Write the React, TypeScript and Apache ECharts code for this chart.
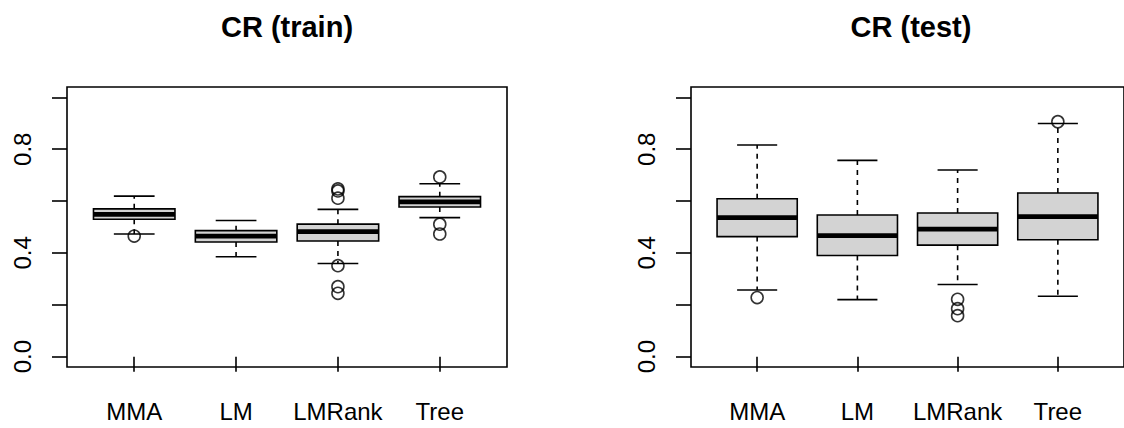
import React, { useEffect, useRef } from "react";
import * as echarts from "echarts";

const categories = ["MMA", "LM", "LMRank", "Tree"];
const categoryPositions = [1, 2, 3, 4];
const yTickValues = [0, 0.2, 0.4, 0.6, 0.8, 1.0];
const yLabelValues = [0, 0.4, 0.8];
const titles = ["CR (train)", "CR (test)"];

// [lowerWhisker, q1, median, q3, upperWhisker]
const trainBoxes = [
  [0.473, 0.53, 0.549, 0.57, 0.619],
  [0.385, 0.442, 0.465, 0.486, 0.525],
  [0.359, 0.446, 0.482, 0.511, 0.568],
  [0.536, 0.577, 0.597, 0.617, 0.667],
];
const trainOutliers = [
  [1, 0.465],
  [3, 0.647],
  [3, 0.639],
  [3, 0.611],
  [3, 0.351],
  [3, 0.27],
  [3, 0.244],
  [4, 0.693],
  [4, 0.511],
  [4, 0.473],
];
const testBoxes = [
  [0.257, 0.463, 0.536, 0.609, 0.816],
  [0.22, 0.39, 0.467, 0.546, 0.757],
  [0.278, 0.43, 0.492, 0.554, 0.72],
  [0.233, 0.451, 0.54, 0.631, 0.899],
];
const testOutliers = [
  [1, 0.228],
  [3, 0.221],
  [3, 0.185],
  [3, 0.158],
  [4, 0.906],
];

const FONT = "'Liberation Sans', Arial, Helvetica, sans-serif";
const GRID_LEFTS = [67, 691];
const GRID_TOP = 87;
const GRID_W = 440;
const GRID_H = 280;

const renderBox = (params: any, api: any) => {
  const x = api.value(0);
  const lo = api.value(1);
  const q1 = api.value(2);
  const med = api.value(3);
  const q3 = api.value(4);
  const hi = api.value(5);
  const pLo = api.coord([x, lo]);
  const pQ1 = api.coord([x, q1]);
  const pMed = api.coord([x, med]);
  const pQ3 = api.coord([x, q3]);
  const pHi = api.coord([x, hi]);
  const cx = pMed[0];
  const bw = api.size([0.8, 0])[0];
  const sw = api.size([0.4, 0])[0];
  const lineStyle = { stroke: "#000", lineWidth: 1.6 };
  const dashStyle = { stroke: "#000", lineWidth: 1.6, lineDash: [5, 5] };
  return {
    type: "group",
    children: [
      { type: "line", shape: { x1: cx, y1: pQ3[1], x2: cx, y2: pHi[1] }, style: dashStyle },
      { type: "line", shape: { x1: cx, y1: pQ1[1], x2: cx, y2: pLo[1] }, style: dashStyle },
      { type: "line", shape: { x1: cx - sw / 2, y1: pHi[1], x2: cx + sw / 2, y2: pHi[1] }, style: lineStyle },
      { type: "line", shape: { x1: cx - sw / 2, y1: pLo[1], x2: cx + sw / 2, y2: pLo[1] }, style: lineStyle },
      {
        type: "rect",
        shape: { x: cx - bw / 2, y: pQ3[1], width: bw, height: pQ1[1] - pQ3[1] },
        style: { fill: "#d3d3d3", stroke: "#000", lineWidth: 1.6 },
      },
      {
        type: "line",
        shape: { x1: cx - bw / 2, y1: pMed[1], x2: cx + bw / 2, y2: pMed[1] },
        style: { stroke: "#000", lineWidth: 4.8 },
      },
    ],
  };
};

export default function App() {
  const ref = useRef<HTMLDivElement>(null);
  useEffect(() => {
    if (!ref.current) return;
    const chart = echarts.init(ref.current, null, { renderer: "svg" });
    const panels = [
      { boxes: trainBoxes, outliers: trainOutliers },
      { boxes: testBoxes, outliers: testOutliers },
    ];
    const grid = GRID_LEFTS.map((left) => ({
      left,
      top: GRID_TOP,
      width: GRID_W,
      height: GRID_H,
      show: true,
      borderColor: "#000",
      borderWidth: 1.6,
      backgroundColor: "transparent",
      containLabel: false,
    }));
    const xAxis = GRID_LEFTS.map((_, i) => ({
      type: "value",
      gridIndex: i,
      min: 0.34,
      max: 4.66,
      splitLine: { show: false },
      axisLine: { show: false },
      axisTick: {
        show: true,
        inside: false,
        length: 15,
        customValues: categoryPositions,
        lineStyle: { color: "#000", width: 1.6 },
      },
      axisLabel: {
        show: true,
        customValues: categoryPositions,
        formatter: (v: number) => categories[Math.round(v) - 1] ?? "",
        fontSize: 24,
        fontFamily: FONT,
        color: "#000",
        margin: 32,
      },
    }));
    const yAxis = GRID_LEFTS.map((_, i) => ({
      type: "value",
      gridIndex: i,
      min: -0.04,
      max: 1.04,
      splitLine: { show: false },
      axisLine: { show: false },
      axisTick: {
        show: true,
        inside: false,
        length: 15,
        customValues: yTickValues,
        lineStyle: { color: "#000", width: 1.6 },
      },
      axisLabel: {
        show: true,
        customValues: yLabelValues,
        formatter: (v: number) => v.toFixed(1),
        rotate: 90,
        fontSize: 24,
        fontFamily: FONT,
        color: "#000",
        margin: 33,
      },
    }));
    const series: any[] = [];
    panels.forEach((p, i) => {
      series.push({
        type: "custom",
        xAxisIndex: i,
        yAxisIndex: i,
        renderItem: renderBox,
        encode: { x: 0, y: [1, 2, 3, 4, 5] },
        data: p.boxes.map((b, j) => [categoryPositions[j], ...b]),
        z: 2,
      });
      series.push({
        type: "scatter",
        xAxisIndex: i,
        yAxisIndex: i,
        symbol: "circle",
        symbolSize: 12,
        itemStyle: { color: "rgba(0,0,0,0)", borderColor: "#000", borderWidth: 1.6 },
        data: p.outliers,
        z: 3,
      });
    });
    chart.setOption({
      animation: false,
      grid,
      xAxis,
      yAxis,
      series,
      graphic: titles.map((t, i) => ({
        type: "text",
        x: GRID_LEFTS[i] + GRID_W / 2,
        y: 27,
        style: {
          text: t,
          textAlign: "center",
          textVerticalAlign: "middle",
          fontSize: 29,
          fontWeight: "bold",
          fontFamily: FONT,
          fill: "#000",
        },
      })),
    });
    return () => chart.dispose();
  }, []);
  return (
    <div
      ref={ref}
      style={{ position: "absolute", left: 0, top: 0, width: 1124, height: 428, overflow: "hidden", background: "#fff" }}
    />
  );
}
